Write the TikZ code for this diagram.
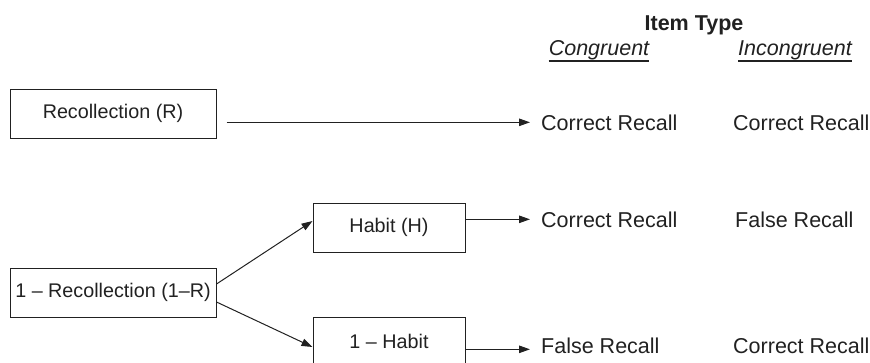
\documentclass[tikz,border=0pt]{standalone}
\usepackage{fontspec}
\setmainfont{Liberation Sans}
\usetikzlibrary{arrows.meta,calc}
\definecolor{ink}{gray}{0.13}
\begin{document}
\begin{tikzpicture}[x=1pt,y=-1pt,
  box/.style={draw=ink, text=ink, line width=1pt, minimum height=49pt, inner sep=0pt,
    font=\fontsize{19.75}{22}\selectfont},
  lbl/.style={inner sep=0pt, anchor=base west, text=ink, font=\fontsize{21.5}{24}\selectfont},
  hdr/.style={inner sep=0pt, anchor=base, text=ink},
  arr/.style={draw=ink, line width=1pt, -{Triangle[length=11pt,width=7.5pt]}},
  uline/.style={draw=ink, line width=1.3pt},
]
\useasboundingbox (0,0) rectangle (870,362);
\clip (0,0) rectangle (870,362);

% boxes
\node[box, minimum width=206pt] (R)  at (113,113.5) {Recollection (R)};
\node[box, minimum width=206pt] (R2) at (113,292.5) {1 – Recollection (1–R)};
\node[box, minimum width=152pt] (H)  at (389,227.5) {Habit (H)};
\node[box, minimum width=152pt] (H2) at (389,341.5) {1 – Habit};

% headers
\node[hdr, font=\fontsize{21.5}{24}\selectfont\bfseries] (it) at (694,30) {Item Type};
\node[hdr, font=\fontsize{21.5}{24}\selectfont\itshape] (cg) at (599,55) {Congruent};
\node[hdr, font=\fontsize{21.5}{24}\selectfont\itshape] (ic) at (795,55) {Incongruent};
\draw[uline] ($(cg.base west)+(0,6)$) -- ($(cg.base east)+(0,6)$);
\draw[uline] ($(ic.base west)+(0,6)$) -- ($(ic.base east)+(0,6)$);

% outcomes
\node[lbl] (c1) at (541,130) {Correct Recall};
\node[lbl] (i1) at (733,130) {Correct Recall};
\node[lbl] (c2) at (541,227) {Correct Recall};
\node[lbl] (i2) at (735,227) {False Recall};
\node[lbl] (c3) at (541,353) {False Recall};
\node[lbl] (i3) at (733,353) {Correct Recall};

% connectors
\draw[arr, shorten <=10pt, shorten >=11pt] (R.east |- c1.west) -- (c1.west);
\draw[arr, shorten >=11pt] (H.east |- c2.west) -- (c2.west);
\draw[arr, shorten >=11pt] ($(H2.east |- c3.west)+(0,4)$) -- ($(c3.west)+(0,4)$);
\draw[arr] ($(R2.east)+(0,-8.5)$) -- ($(H.west)+(0,-6.5)$);
\draw[arr] ($(R2.east)+(0,9.5)$) -- ($(H2.west)+(0,5.5)$);
\end{tikzpicture}
\end{document}
